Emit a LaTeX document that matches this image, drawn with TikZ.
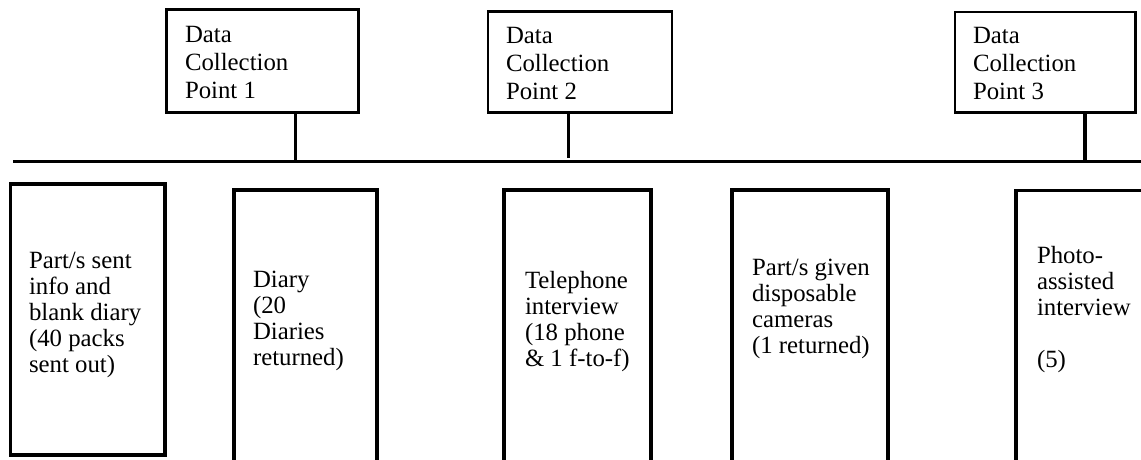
\documentclass[tikz,border=0pt]{standalone}
\usepackage{fontspec}
\setmainfont{Liberation Serif}
\begin{document}
\begin{tikzpicture}[x=1pt,y=-1pt,
  pointbox/.style={draw=black,line width=2.7pt,rectangle,inner sep=0pt,outer sep=0pt},
  stagebox/.style={draw=black,line width=3.6pt,rectangle,inner sep=0pt,outer sep=0pt},
  label/.style={anchor=base west,align=left,inner sep=0pt,outer sep=0pt},
  toplabel/.style={label,font=\fontsize{24.8}{28}\selectfont},
  stagelabel/.style={label,font=\fontsize{24.8}{26}\selectfont},
  link/.style={draw=black,line width=3.4pt}]
\useasboundingbox (0,0) rectangle (1141,459);
\clip (0,0) rectangle (1141,459);

% data collection points
\node[pointbox,minimum width=192.4pt,minimum height=102.6pt] (p1) at (262.5,61) {};
\node[pointbox,minimum width=184pt,minimum height=100.7pt] (p2) at (580,62.15) {};
\node[pointbox,minimum width=180.5pt,minimum height=100.5pt] (p3) at (1045.25,62.25) {};
% labels are anchored at the baseline of their last line
\node[toplabel] (t1) at (185,98) {Data\\Collection\\Point 1};
\node[toplabel] (t2) at (506,99) {Data\\Collection\\Point 2};
\node[toplabel] (t3) at (973,99) {Data\\Collection\\Point 3};

% timeline
\coordinate (lineL) at (13,161.7);
\coordinate (lineR) at (1160,161.7);
\draw[link] (lineL) -- (lineR);
\coordinate (c1) at (295.3,161.7);
\coordinate (c2) at (568.7,161.7);
\coordinate (c3) at (1085,161.7);
\draw[link] (c1 |- p1.south) -- (c1);
\draw[link,shorten >=4pt] (c2 |- p2.south) -- (c2);
\draw[link] (c3 |- p3.south) -- (c3);

% stages
\node[stagebox,minimum width=154.7pt,minimum height=271pt] (sA) at (87.65,319.5) {};
\node[stagebox,minimum width=143pt,minimum height=290pt] (sB) at (305.5,335) {};
\node[stagebox,minimum width=147pt,minimum height=290pt] (sC) at (577.5,335) {};
\node[stagebox,minimum width=156pt,minimum height=290pt] (sD) at (810,335) {};
\node[stagebox,minimum width=154pt,minimum height=290pt] (sE) at (1093,335.5) {};

\node[stagelabel] (xA) at (29,372) {Part/s sent\\info and\\blank diary\\(40 packs\\sent out)};
\node[stagelabel] (xB) at (253,365) {Diary\\(20\\Diaries\\returned)};
\node[stagelabel] (xC) at (525,366) {Telephone\\interview\\(18 phone\\\& 1 f-to-f)};
\node[stagelabel] (xD) at (752,353) {Part/s given\\disposable\\cameras\\(1 returned)};
\node[stagelabel] (xE) at (1037,367) {Photo-\\assisted\\interview\\[26pt](5)};
\end{tikzpicture}
\end{document}
